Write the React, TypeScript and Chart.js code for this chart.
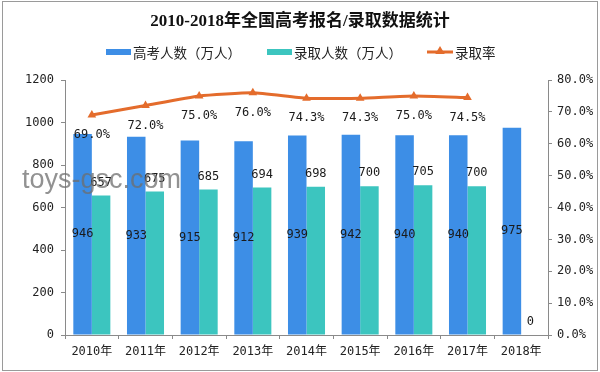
import React, { useEffect, useRef } from "react";
import { Chart, registerables } from "chart.js";

Chart.register(...registerables);

const categories = ["2010年", "2011年", "2012年", "2013年", "2014年", "2015年", "2016年", "2017年", "2018年"];
const examinees = [946, 933, 915, 912, 939, 942, 940, 940, 975];
const admitted = [657, 675, 685, 694, 698, 700, 705, 700, 0];
const admissionRate: (number | null)[] = [69.0, 72.0, 75.0, 76.0, 74.3, 74.3, 75.0, 74.5, null];
const seriesNames = ["高考人数（万人）", "录取人数（万人）", "录取率"];
const titleText = "2010-2018年全国高考报名/录取数据统计";
const watermarkText = "toys-gsc.com";

const BLUE = "#3D8EE6";
const TEAL = "#3CC5BF";
const ORANGE = "#E46C2C";
const MONO = "'DejaVu Sans Mono', 'Noto Sans CJK SC', monospace";
const CJK = "'Noto Sans CJK SC', sans-serif";

function triangle(ctx: CanvasRenderingContext2D, x: number, y: number, r: number) {
  ctx.beginPath();
  ctx.moveTo(x, y - r);
  ctx.lineTo(x + r * 0.95, y + r * 0.6);
  ctx.lineTo(x - r * 0.95, y + r * 0.6);
  ctx.closePath();
  ctx.fill();
}

const decorPlugin = {
  id: "decor",
  beforeDraw(chart: any) {
    const ctx = chart.ctx as CanvasRenderingContext2D;
    ctx.save();
    ctx.fillStyle = "#ffffff";
    ctx.fillRect(0, 0, chart.width, chart.height);
    ctx.restore();
  },
  afterDatasetsDraw(chart: any) {
    const ctx = chart.ctx as CanvasRenderingContext2D;
    ctx.save();
    ctx.font = `12px ${MONO}`;
    ctx.fillStyle = "#1a1a1a";
    ctx.textAlign = "center";
    ctx.textBaseline = "middle";
    const m0 = chart.getDatasetMeta(0);
    m0.data.forEach((el: any, i: number) => {
      ctx.fillText(String(examinees[i]), el.x, (el.y + el.base) / 2);
    });
    const m1 = chart.getDatasetMeta(1);
    m1.data.forEach((el: any, i: number) => {
      ctx.fillText(String(admitted[i]), el.x, el.y - 13);
    });
    const m2 = chart.getDatasetMeta(2);
    m2.data.forEach((el: any, i: number) => {
      const v = admissionRate[i];
      if (v === null || el.skip) return;
      ctx.fillText(v.toFixed(1) + "%", el.x, el.y + 20);
    });
    ctx.restore();
  },
  afterDraw(chart: any) {
    const ctx = chart.ctx as CanvasRenderingContext2D;
    ctx.save();
    // title
    ctx.fillStyle = "#111";
    ctx.font = `bold 17px 'Liberation Serif', ${CJK}`;
    ctx.textAlign = "center";
    ctx.textBaseline = "middle";
    ctx.fillText(titleText, 300, 22);
    // legend
    ctx.font = `13.5px ${CJK}`;
    ctx.textAlign = "left";
    ctx.fillStyle = BLUE;
    ctx.fillRect(106, 49, 25, 6);
    ctx.fillStyle = "#222";
    ctx.fillText(seriesNames[0], 133, 53);
    ctx.fillStyle = TEAL;
    ctx.fillRect(267, 49, 25, 6);
    ctx.fillStyle = "#222";
    ctx.fillText(seriesNames[1], 294, 53);
    ctx.strokeStyle = ORANGE;
    ctx.lineWidth = 3;
    ctx.beginPath();
    ctx.moveTo(427, 52);
    ctx.lineTo(453, 52);
    ctx.stroke();
    ctx.fillStyle = ORANGE;
    triangle(ctx, 440, 51, 5);
    ctx.fillStyle = "#222";
    ctx.fillText(seriesNames[2], 455, 53);
    // watermark
    ctx.font = `27px 'Liberation Sans', sans-serif`;
    ctx.fillStyle = "rgba(110,110,110,0.75)";
    ctx.textBaseline = "alphabetic";
    ctx.fillText(watermarkText, 22, 188);
    // border
    ctx.strokeStyle = "#9a9a9a";
    ctx.lineWidth = 1;
    ctx.strokeRect(2.5, 1.5, 595, 369);
    ctx.restore();
  },
};

export default function App() {
  const ref = useRef<HTMLCanvasElement | null>(null);
  useEffect(() => {
    if (!ref.current) return;
    const chart = new Chart(ref.current, {
      type: "bar",
      data: {
        labels: categories,
        datasets: [
          {
            type: "bar",
            label: seriesNames[0],
            data: examinees,
            backgroundColor: BLUE,
            yAxisID: "y",
            order: 2,
            categoryPercentage: 0.69,
            barPercentage: 1.0,
          },
          {
            type: "bar",
            label: seriesNames[1],
            data: admitted,
            backgroundColor: TEAL,
            yAxisID: "y",
            order: 2,
            categoryPercentage: 0.69,
            barPercentage: 1.0,
          },
          {
            type: "line",
            label: seriesNames[2],
            data: admissionRate,
            borderColor: ORANGE,
            backgroundColor: ORANGE,
            borderWidth: 3,
            pointStyle: "triangle",
            pointRadius: 5,
            pointBorderWidth: 0,
            tension: 0.15,
            yAxisID: "y1",
            order: 0,
            spanGaps: false,
          } as any,
        ],
      },
      options: {
        responsive: false,
        animation: false,
        devicePixelRatio: 1,
        layout: { padding: { top: 80, left: 0, right: 0, bottom: 0 } },
        plugins: {
          legend: { display: false },
          title: { display: false },
          tooltip: { enabled: false },
        },
        scales: {
          x: {
            offset: true,
            grid: {
              display: true,
              offset: true,
              drawOnChartArea: false,
              drawTicks: true,
              tickLength: 4,
              color: "#8a8a8a",
            },
            border: { display: true, color: "#8a8a8a" },
            ticks: {
              color: "#222",
              font: { family: MONO, size: 12 },
              padding: 6,
              maxRotation: 0,
              autoSkip: false,
            },
            afterFit: (s: any) => {
              s.height = 37;
            },
          },
          y: {
            position: "left",
            min: 0,
            max: 1200,
            ticks: {
              stepSize: 200,
              color: "#222",
              font: { family: MONO, size: 12 },
              padding: 7,
              callback: (v: any) => String(v),
            },
            grid: {
              display: true,
              drawOnChartArea: false,
              drawTicks: true,
              tickLength: 4,
              color: "#8a8a8a",
            },
            border: { display: true, color: "#8a8a8a" },
            afterFit: (s: any) => {
              s.width = 65;
            },
          },
          y1: {
            position: "right",
            min: 0,
            max: 80,
            ticks: {
              stepSize: 10,
              color: "#222",
              font: { family: MONO, size: 12 },
              padding: 5,
              callback: (v: any) => Number(v).toFixed(1) + "%",
            },
            grid: {
              display: true,
              drawOnChartArea: false,
              drawTicks: true,
              tickLength: 4,
              color: "#8a8a8a",
            },
            border: { display: true, color: "#8a8a8a" },
            afterFit: (s: any) => {
              s.width = 52;
            },
          },
        },
      },
      plugins: [decorPlugin],
    });
    return () => chart.destroy();
  }, []);
  return (
    <div style={{ position: "absolute", left: 0, top: 0, width: 600, height: 372 }}>
      <canvas ref={ref} width={600} height={372} style={{ width: 600, height: 372, display: "block" }} />
    </div>
  );
}
